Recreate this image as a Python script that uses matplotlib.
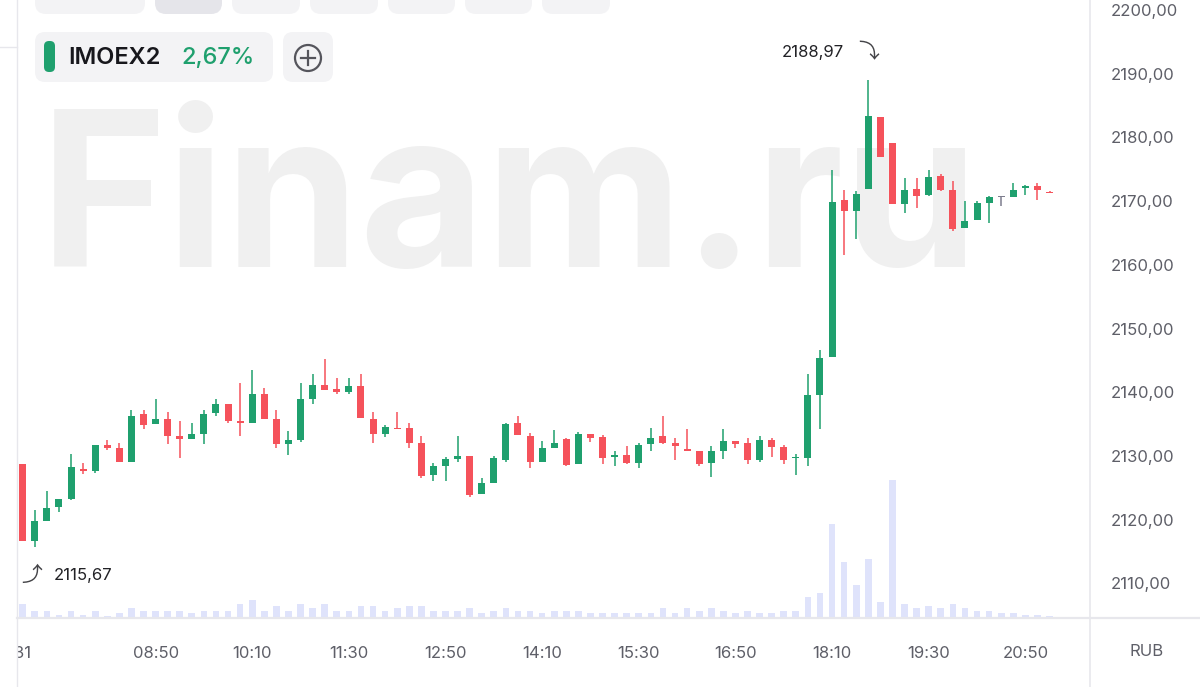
import matplotlib
matplotlib.use("Agg")
import matplotlib.pyplot as plt
from matplotlib.patches import FancyBboxPatch, Circle
from matplotlib.transforms import Bbox, TransformedBbox
import numpy as np

# ---------------- data ----------------
opens = [2128.7, 2116.7, 2119.8, 2122.0, 2123.2, 2128.0, 2127.7, 2131.7, 2131.3, 2129.0,
         2136.5, 2135.0, 2135.8, 2133.1, 2132.6, 2133.5, 2136.7, 2138.2, 2135.5, 2135.2,
         2139.7, 2135.8, 2131.8, 2132.5, 2139.0, 2141.2, 2140.5, 2140.0, 2141.0, 2135.8,
         2133.4, 2134.4, 2134.4, 2132.1, 2127.0, 2128.4, 2129.5, 2130.0, 2124.0, 2125.8,
         2129.4, 2135.1, 2133.1, 2129.1, 2131.3, 2132.6, 2128.7, 2133.4, 2133.0, 2129.8,
         2130.2, 2128.9, 2131.8, 2133.1, 2132.1, 2131.0, 2130.8, 2128.9, 2130.8, 2132.4,
         2132.1, 2129.3, 2132.5, 2131.4, 2129.6, 2129.6, 2139.6, 2145.6, 2170.1, 2168.5,
         2171.9, 2183.2, 2179.1, 2169.5, 2171.9, 2170.9, 2173.9, 2171.7, 2165.7, 2167.1,
         2169.7, 2170.6, 2170.6, 2172.0, 2172.3, 2171.4]
highs = [2128.8, 2121.5, 2124.5, 2123.2, 2130.3, 2128.9, 2131.7, 2132.5, 2132.0, 2137.2,
         2137.2, 2138.9, 2136.9, 2135.5, 2135.1, 2137.2, 2138.9, 2138.2, 2141.4, 2143.5,
         2140.6, 2137.2, 2133.9, 2141.4, 2142.8, 2145.2, 2142.3, 2142.3, 2142.8, 2136.9,
         2134.9, 2136.9, 2135.2, 2133.1, 2128.9, 2129.8, 2133.1, 2130.0, 2126.6, 2130.0,
         2135.2, 2136.3, 2133.6, 2132.4, 2134.1, 2132.8, 2133.8, 2133.4, 2133.3, 2130.8,
         2131.5, 2132.1, 2134.4, 2136.3, 2132.8, 2134.3, 2130.8, 2131.5, 2134.2, 2132.4,
         2132.8, 2133.1, 2132.8, 2131.7, 2130.3, 2142.8, 2146.7, 2174.9, 2171.7, 2171.6,
         2188.97, 2183.2, 2179.1, 2173.6, 2173.6, 2174.9, 2174.2, 2173.2, 2170.0, 2170.0,
         2170.8, 2170.8, 2172.9, 2172.5, 2172.9, 2171.6]
lows = [2116.6, 2115.67, 2119.8, 2121.2, 2123.0, 2127.1, 2127.3, 2131.0, 2129.0, 2129.0,
        2134.2, 2135.0, 2131.8, 2129.7, 2132.6, 2131.8, 2136.3, 2135.1, 2133.2, 2135.2,
        2135.8, 2131.2, 2130.1, 2132.2, 2138.1, 2140.3, 2139.7, 2139.7, 2135.9, 2132.1,
        2132.9, 2134.2, 2131.2, 2126.6, 2126.0, 2126.0, 2129.0, 2123.6, 2124.0, 2125.7,
        2129.1, 2133.3, 2128.1, 2129.1, 2131.2, 2128.4, 2128.7, 2132.2, 2128.7, 2128.4,
        2128.7, 2128.1, 2130.8, 2131.8, 2129.4, 2130.8, 2128.4, 2126.7, 2129.5, 2131.2,
        2128.7, 2129.0, 2129.8, 2128.7, 2127.0, 2128.4, 2134.2, 2145.6, 2161.5, 2164.1,
        2171.9, 2177.0, 2169.5, 2168.2, 2168.9, 2170.8, 2171.6, 2165.3, 2165.7, 2167.1,
        2166.5, 2169.2, 2170.6, 2170.9, 2170.2, 2171.2]
closes = [2116.7, 2119.8, 2121.8, 2123.2, 2128.3, 2127.7, 2131.7, 2131.3, 2129.0, 2136.2,
          2134.9, 2135.8, 2133.2, 2132.6, 2133.4, 2136.5, 2138.1, 2135.5, 2135.2, 2139.7,
          2135.8, 2131.8, 2132.5, 2138.9, 2141.2, 2140.3, 2140.0, 2140.9, 2135.9, 2133.5,
          2134.5, 2134.2, 2132.1, 2126.8, 2128.4, 2129.5, 2130.0, 2123.9, 2125.8, 2129.6,
          2135.0, 2133.3, 2129.1, 2131.3, 2132.1, 2128.6, 2133.4, 2132.8, 2129.7, 2130.1,
          2128.9, 2131.7, 2132.8, 2132.0, 2131.6, 2130.8, 2128.7, 2130.8, 2132.4, 2131.9,
          2129.4, 2132.5, 2131.4, 2129.4, 2129.8, 2139.6, 2145.3, 2169.8, 2168.5, 2171.1,
          2183.4, 2177.0, 2169.5, 2171.7, 2170.8, 2173.8, 2171.7, 2165.6, 2166.9, 2169.7,
          2170.6, 2170.6, 2171.7, 2172.3, 2171.7, 2171.2]
volumes = [13.3, 6, 6, 1.7, 6, 1.7, 6, 1, 4, 9,
           6, 6, 6, 6, 4, 6, 6, 6, 13.3, 17.3,
           6, 10.7, 6, 13.3, 9, 13.3, 6, 6, 10.7, 10.7,
           6, 9, 10.7, 10.7, 6, 6, 6, 9, 4, 6,
           9, 6, 6, 4, 6, 6, 6, 4, 4, 4,
           4, 4, 4, 9, 4, 9, 6, 9, 6, 4,
           6, 4, 4, 6, 6, 20, 24, 93.3, 55, 31.7,
           58.3, 15, 136.7, 13.3, 9, 10.7, 9, 13.3, 9, 6,
           6, 4, 4, 1.7, 1.7, 0.8]
tick_labels = ["31", "08:50", "10:10", "11:30", "12:50", "14:10", "15:30", "16:50", "18:10", "19:30", "20:50"]
tick_index = [0, 11, 19, 27, 35, 43, 51, 59, 67, 75, 83]
price_ticks = [2110, 2120, 2130, 2140, 2150, 2160, 2170, 2180, 2190, 2200]
ticker = "IMOEX2"
change = "2,67%"
currency = "RUB"
watermark = "Finam.ru"

# ---------------- style ----------------
GREEN = "#1fa06e"
RED = "#f5525b"
GRAY = "#7d7d8e"
VOL = "#dfe3fb"
LINE = "#e7e7ec"
TXT = "#5e5f68"
FONT = "Inter"
ARROW_FAMS = [FONT, "DejaVu Sans", "Noto Sans CJK SC", "Noto Sans", "Liberation Sans"]

W, H = 1200, 687
fig = plt.figure(figsize=(12, 6.87), dpi=100)
fig.patch.set_facecolor("white")

# background overlay (pixel coords) for watermark
bg = fig.add_axes([0, 0, 1, 1], zorder=-2)
bg.set_xlim(0, W); bg.set_ylim(H, 0); bg.axis("off")
bg.text(40, 267, watermark, fontsize=156, fontweight="bold", family=FONT,
        color="#f0f0f0", ha="left", va="baseline")

L, R, B = 17, 1090, 617
rect = [L / W, (H - B) / H, (R - L) / W, B / H]
n = len(opens)
x = np.arange(n)
xlim = ((L - 22.7) / 12.08, (R - 22.7) / 12.08)
ylim = (2200 - (B - 10) / 6.37, 2200 + 10 / 6.37)

# volume axes
axv = fig.add_axes(rect, zorder=-1)
axv.patch.set_visible(False)
axv.bar(x, volumes, width=0.55, color=VOL, linewidth=0)
axv.set_xlim(*xlim)
axv.set_ylim(0, B)
axv.axis("off")

# price axes
ax = fig.add_axes(rect, zorder=1)
ax.patch.set_visible(False)
o = np.array(opens); c = np.array(closes); hi = np.array(highs); lo = np.array(lows)
cols = [GREEN if cc > oo else (RED if cc < oo else GRAY) for oo, cc in zip(o, c)]
ax.vlines(x, lo, hi, colors=cols, linewidth=1.1)
bottoms = np.minimum(o, c)
heights = np.maximum(np.abs(c - o), 0.22)
ax.bar(x, heights, bottom=bottoms, width=0.58, color=cols, linewidth=0)
ax.set_xlim(*xlim)
ax.set_ylim(*ylim)
for s in ax.spines.values():
    s.set_visible(False)
ax.yaxis.tick_right()
ax.set_yticks(price_ticks)
ax.set_yticklabels([f"{p:.2f}".replace(".", ",") for p in price_ticks])
ax.set_xticks(tick_index)
ax.set_xticklabels(tick_labels)
ax.tick_params(axis="y", length=0, pad=15, labelsize=12, labelcolor=TXT)
ax.tick_params(axis="x", length=0, pad=21, labelsize=12, labelcolor=TXT)
for lbl in ax.get_xticklabels() + ax.get_yticklabels():
    lbl.set_family(FONT)
t0 = ax.xaxis.get_major_ticks()[0]
t0.label1.set_clip_box(TransformedBbox(Bbox.from_extents(L / W, 0, 1, 1), fig.transFigure))
t0.label1.set_clip_on(True)

# high / low labels
imax = int(np.argmax(hi)); imin = int(np.argmin(lo))
ax.annotate(f"{hi[imax]:.2f}".replace(".", ","), xy=(imax, hi[imax]),
            xytext=(-24, 28), textcoords="offset pixels", ha="right", va="center",
            fontsize=12, color="#222226", family=FONT)
ax.annotate("⤵", xy=(imax, hi[imax]),
            xytext=(0, 28), textcoords="offset pixels", ha="center", va="center",
            fontsize=15, color="#444448", family=ARROW_FAMS)
ax.annotate("⤴", xy=(imin, lo[imin]),
            xytext=(-3, -28), textcoords="offset pixels", ha="center", va="center",
            fontsize=15, color="#444448", family=ARROW_FAMS)
ax.annotate(f"{lo[imin]:.2f}".replace(".", ","), xy=(imin, lo[imin]),
            xytext=(19, -28), textcoords="offset pixels", ha="left", va="center",
            fontsize=12, color="#222226", family=FONT)

# foreground overlay
fg = fig.add_axes([0, 0, 1, 1], zorder=3)
fg.patch.set_visible(False)
fg.set_xlim(0, W); fg.set_ylim(H, 0); fg.axis("off")
fg.plot([R, R], [0, H], color=LINE, lw=1.2)
fg.plot([L, L], [0, H], color=LINE, lw=1.0)
fg.plot([L, W], [B + 0.5, B + 0.5], color=LINE, lw=1.6)
fg.plot([0, L], [47, 47], color=LINE, lw=1.0)
fg.text((R + W) / 2 + 2, 652, currency, ha="center", va="center", fontsize=12,
        color=TXT, family=FONT)

# top tabs
for (x0, x1), fc in zip([(35, 145), (155, 222), (232, 300), (310, 378), (388, 455), (465, 532), (542, 610)],
                        ["#f3f3f5", "#e5e5ea", "#f3f3f5", "#f3f3f5", "#f3f3f5", "#f3f3f5", "#f3f3f5"]):
    fg.add_patch(FancyBboxPatch((x0, -30), x1 - x0, 44, boxstyle="round,pad=0,rounding_size=11",
                                fc=fc, ec="none"))

# legend chip
fg.add_patch(FancyBboxPatch((35, 32), 238, 50, boxstyle="round,pad=0,rounding_size=10",
                            fc="#f3f3f5", ec="none"))
fg.add_patch(FancyBboxPatch((44, 41), 11, 31, boxstyle="round,pad=0,rounding_size=5",
                            fc=GREEN, ec="none"))
fg.text(68, 58, ticker, ha="left", va="center", fontsize=17, fontweight="semibold",
        color="#17171c", family=FONT)
fg.text(181, 58, change, ha="left", va="center", fontsize=17, fontweight="medium",
        color=GREEN, family=FONT)
fg.add_patch(FancyBboxPatch((283, 32), 50, 50, boxstyle="round,pad=0,rounding_size=10",
                            fc="#f3f3f5", ec="none"))
fg.add_patch(Circle((308, 58), 13, fc="none", ec="#55555c", lw=1.6))
fg.plot([301, 315], [58, 58], color="#55555c", lw=1.6)
fg.plot([308, 308], [51, 65], color="#55555c", lw=1.6)

fig.savefig("out.png", dpi=100, facecolor="white")
